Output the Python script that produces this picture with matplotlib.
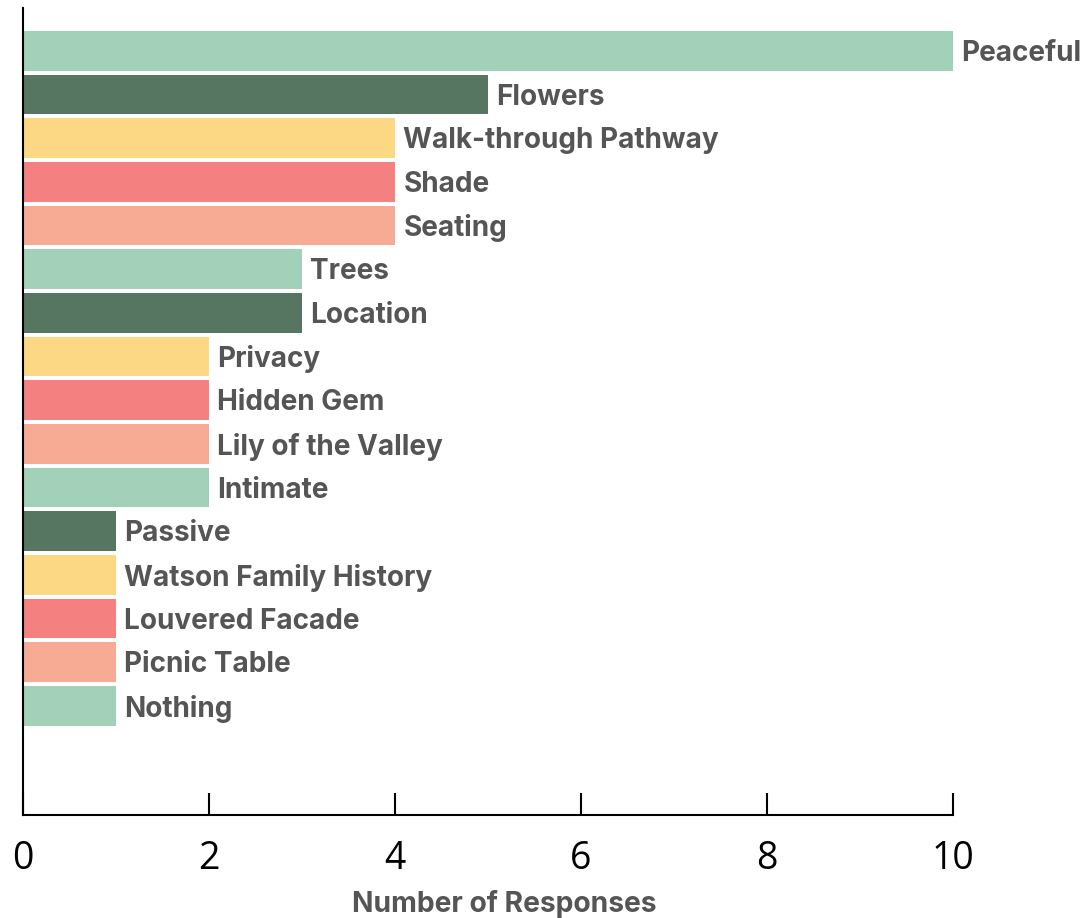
import matplotlib.pyplot as plt

categories = ['Peaceful', 'Flowers', 'Walk-through Pathway', 'Shade', 'Seating',
              'Trees', 'Location', 'Privacy', 'Hidden Gem', 'Lily of the Valley',
              'Intimate', 'Passive', 'Watson Family History', 'Louvered Facade',
              'Picnic Table', 'Nothing']
responses = [10, 5, 4, 4, 4, 3, 3, 2, 2, 2, 2, 1, 1, 1, 1, 1]
palette = ['#A3D0B8', '#577662', '#FDD884', '#F48080', '#F8AB94']
colors = [palette[i % len(palette)] for i in range(len(categories))]

fig = plt.figure(figsize=(10.91, 9.18), dpi=100)
ax = fig.add_axes([0.0211, 0.1122, 0.8524, 0.8791])

ypos = list(range(len(categories)))
ax.barh(ypos, responses, height=0.91, color=colors)

# labels at the end of each bar
for y, v, name in zip(ypos, responses, categories):
    ax.annotate(name, (v, y), xytext=(6, -2), textcoords='offset points',
                va='center', ha='left', fontsize=20.1, fontweight='bold',
                family='Inter', color='#555555')

ax.set_xlim(0, 10)
ax.set_ylim(17.5, -0.98)
ax.set_yticks([])
ax.set_xticks([0, 2, 4, 6, 8, 10])
ax.tick_params(axis='x', direction='in', length=16, width=1.5, labelsize=27, pad=18)
for lbl in ax.get_xticklabels():
    lbl.set_family('Open Sans')
ax.spines['top'].set_visible(False)
ax.spines['right'].set_visible(False)
ax.spines['left'].set_linewidth(1.5)
ax.spines['bottom'].set_linewidth(1.5)
ax.set_xlabel('Number of Responses', fontsize=20.3, fontweight='bold',
              family='Inter', color='#555555')
ax.xaxis.set_label_coords(0.518, -0.093)

fig.savefig('out.png', dpi=100)
